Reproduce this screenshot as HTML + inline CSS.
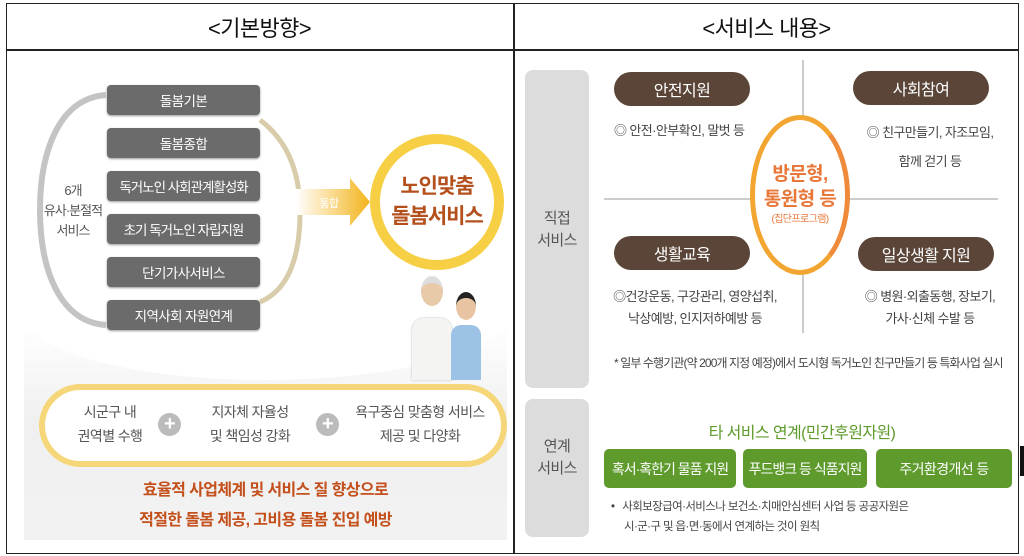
<!DOCTYPE html>
<html><head><meta charset="utf-8"><style>
*{margin:0;padding:0;box-sizing:border-box}
body{width:1024px;height:556px;background:#fff;position:relative;overflow:hidden;font-family:"Liberation Sans","Noto Sans CJK KR",sans-serif;letter-spacing:-0.6px}
.a{position:absolute}
.c{display:flex;align-items:center;justify-content:center;text-align:center;white-space:nowrap}
.gb{background:#6b6b6b;color:#fff;font-size:13.5px;border-radius:4px;box-shadow:0 1px 2px #999}
.bp{background:#5a4538;color:#fff;font-size:16px;border-radius:17px}
.gr{background:#5e9a2c;color:#fff;font-size:14px;border-radius:5px}
.t{color:#444;font-size:13px;line-height:21px;white-space:nowrap}
</style></head><body>
<div class="a" style="left:6px;top:3px;width:1013px;height:551px;border:1.5px solid #222"></div>
<div class="a" style="left:6px;top:49px;width:1013px;height:1.5px;background:#222"></div>
<div class="a" style="left:513px;top:3px;width:1.5px;height:551px;background:#222"></div>
<div class="a c" style="left:6px;top:4px;width:507px;height:45px;font-size:22px;color:#111">&lt;기본방향&gt;</div>
<div class="a c" style="left:514px;top:4px;width:505px;height:45px;font-size:22px;color:#111">&lt;서비스 내용&gt;</div>
<div class="a" style="left:1020px;top:446px;width:4px;height:30px;background:#111"></div>

<!-- LEFT PANEL -->
<div class="a" style="left:24px;top:57px;width:483px;height:483px;background:linear-gradient(#fff 0,#fff 55%,#f0f0f0 75%,#f2f2f2 100%)"></div>
<div class="a" style="left:24px;top:270px;width:483px;height:110px;background:#fff;border-radius:0 0 50% 50%/0 0 60% 60%"></div>
<svg class="a" style="left:20px;top:50px" width="300" height="300">
<path d="M86 45 C40 48 20 100 20 160 C20 220 40 272 86 275" fill="none" stroke="#c4c4c4" stroke-width="6"/>
<path d="M240 70 Q280 100 280 162 Q280 235 240 252" fill="none" stroke="#d8ccaa" stroke-width="5"/>
</svg>
<div class="a gb c" style="left:107px;top:85px;width:153px;height:30px">돌봄기본</div>
<div class="a gb c" style="left:107px;top:128px;width:153px;height:30px">돌봄종합</div>
<div class="a gb c" style="left:107px;top:171px;width:153px;height:30px;letter-spacing:-1px">독거노인 사회관계활성화</div>
<div class="a gb c" style="left:107px;top:214px;width:153px;height:30px;letter-spacing:-1px">초기 독거노인 자립지원</div>
<div class="a gb c" style="left:107px;top:257px;width:153px;height:30px">단기가사서비스</div>
<div class="a gb c" style="left:107px;top:300px;width:153px;height:30px">지역사회 자원연계</div>
<div class="a c" style="left:36px;top:178px;width:74px;height:66px;font-size:13px;line-height:20px;color:#555;letter-spacing:-1px">6개<br>유사·분절적<br>서비스</div>
<svg class="a" style="left:296px;top:178px" width="76" height="50">
<defs><linearGradient id="ag" x1="0" x2="1"><stop offset="0" stop-color="#fff"/><stop offset="1" stop-color="#f3b41c"/></linearGradient></defs>
<polygon points="0,11 54,11 54,0 74,24 54,48 54,37 0,37" fill="url(#ag)"/>
<text x="33" y="29" font-size="11" fill="#fff" text-anchor="middle" font-family="Liberation Sans, Noto Sans CJK KR, sans-serif">통합</text>
</svg>
<div class="a" style="left:370px;top:134px;width:134px;height:136px;border-radius:50%;background:#f6cf45"></div>
<div class="a c" style="left:380px;top:144px;width:114px;height:116px;border-radius:50%;background:#fff;color:#b3501c;font-size:21px;line-height:30px;font-weight:bold;letter-spacing:-1px">노인맞춤<br>돌봄서비스</div>
<div class="a" style="left:412px;top:318px;width:40px;height:62px;background:#f4f4f2;border-radius:12px 12px 0 0;box-shadow:0 0 2px #bbb"></div>
<div class="a" style="left:421px;top:276px;width:22px;height:30px;background:#e8c9a8;border-radius:50%;border-top:7px solid #ddd"></div>
<div class="a" style="left:451px;top:325px;width:30px;height:55px;background:#9cc3e6;border-radius:10px 10px 0 0"></div>
<div class="a" style="left:456px;top:292px;width:20px;height:28px;background:#e9c4a2;border-radius:50%;border-top:6px solid #222"></div>
<div class="a" style="left:39px;top:384px;width:468px;height:83px;border:6px solid #f5d77a;border-radius:42px;background:#fff"></div>
<div class="a c" style="left:55px;top:398px;width:110px;height:52px;font-size:14px;line-height:24px;color:#555">시군구 내<br>권역별 수행</div>
<div class="a c" style="left:158px;top:413px;width:23px;height:23px;border-radius:50%;background:#bbb;color:#fff;font-size:20px;font-weight:bold">+</div>
<div class="a c" style="left:190px;top:398px;width:120px;height:52px;font-size:14px;line-height:24px;color:#555">지자체 자율성<br>및 책임성 강화</div>
<div class="a c" style="left:316px;top:413px;width:23px;height:23px;border-radius:50%;background:#bbb;color:#fff;font-size:20px;font-weight:bold">+</div>
<div class="a c" style="left:340px;top:398px;width:160px;height:52px;font-size:14px;line-height:24px;color:#555">욕구중심 맞춤형 서비스<br>제공 및 다양화</div>
<div class="a c" style="left:24px;top:478px;width:483px;height:56px;font-size:16px;line-height:30px;color:#c4501c;font-weight:bold">효율적 사업체계 및 서비스 질 향상으로<br>적절한 돌봄 제공, 고비용 돌봄 진입 예방</div>

<!-- RIGHT PANEL -->
<div class="a" style="left:525px;top:70px;width:64px;height:318px;background:#dcdcdc;border-radius:8px"></div>
<div class="a c" style="left:525px;top:200px;width:64px;height:60px;font-size:15px;line-height:22px;color:#555">직접<br>서비스</div>
<div class="a" style="left:525px;top:399px;width:64px;height:138px;background:#dcdcdc;border-radius:8px"></div>
<div class="a c" style="left:525px;top:428px;width:64px;height:60px;font-size:15px;line-height:22px;color:#555">연계<br>서비스</div>
<div class="a" style="left:802px;top:60px;width:1.5px;height:273px;background:#ccc"></div>
<div class="a" style="left:604px;top:198px;width:394px;height:1.5px;background:#ccc"></div>
<div class="a" style="left:750px;top:115px;width:100px;height:160px;border-radius:50%;border:5px solid #f2a531;border-right-color:#ee8a3a;background:#fff"></div>
<div class="a c" style="left:755px;top:150px;width:90px;height:90px;flex-direction:column;color:#e8783a;font-size:19px;line-height:25px;font-weight:bold">방문형,<br>통원형 등<span style="font-size:10px;font-weight:normal;line-height:16px">(집단프로그램)</span></div>
<div class="a bp c" style="left:614px;top:72px;width:136px;height:34px">안전지원</div>
<div class="a bp c" style="left:853px;top:71px;width:136px;height:34px">사회참여</div>
<div class="a bp c" style="left:614px;top:236px;width:136px;height:34px">생활교육</div>
<div class="a bp c" style="left:858px;top:237px;width:136px;height:34px">일상생활 지원</div>
<div class="a t" style="left:614px;top:120px">◎ 안전·안부확인, 말벗 등</div>
<div class="a t" style="left:855px;top:118px;width:150px;text-align:center;line-height:29px">◎ 친구만들기, 자조모임,<br>함께 걷기 등</div>
<div class="a t" style="left:600px;top:286px;width:190px;text-align:center;line-height:22px">◎건강운동, 구강관리, 영양섭취,<br>낙상예방, 인지저하예방 등</div>
<div class="a t" style="left:855px;top:286px;width:150px;text-align:center;line-height:22px">◎ 병원·외출동행, 장보기,<br>가사·신체 수발 등</div>
<div class="a" style="left:614px;top:354px;font-size:12px;color:#444;white-space:nowrap;letter-spacing:-0.9px">* 일부 수행기관(약 200개 지정 예정)에서 도시형 독거노인 친구만들기 등 특화사업 실시</div>
<div class="a c" style="left:604px;top:417px;width:396px;height:28px;color:#5e9a2c;font-size:16px">타 서비스 연계(민간후원자원)</div>
<div class="a gr c" style="left:604px;top:449px;width:132px;height:39px;letter-spacing:-1px">혹서·혹한기 물품 지원</div>
<div class="a gr c" style="left:743px;top:449px;width:124px;height:39px;letter-spacing:-1px">푸드뱅크 등 식품지원</div>
<div class="a gr c" style="left:876px;top:449px;width:136px;height:39px">주거환경개선 등</div>
<div class="a" style="left:611px;top:497px;font-size:11.5px;line-height:20px;color:#444;white-space:nowrap">•&nbsp;&nbsp; 사회보장급여·서비스나 보건소·치매안심센터 사업 등 공공자원은<br>&nbsp;&nbsp;&nbsp;&nbsp;&nbsp;시·군·구 및 읍·면·동에서 연계하는 것이 원칙</div>
</body></html>
